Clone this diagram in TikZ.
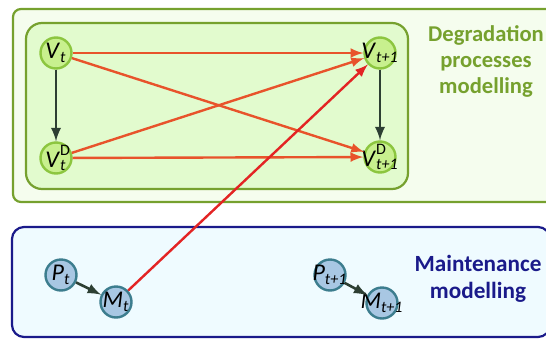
\documentclass[tikz,border=0pt]{standalone}
\usepackage{fontspec}
\setmainfont{Carlito}
\usepackage{tikz}
\usetikzlibrary{arrows}

\definecolor{boxgreen}{HTML}{76A12E}
\definecolor{outerfill}{HTML}{F5FDEE}
\definecolor{innerfill}{HTML}{E2FBCE}
\definecolor{vgreen}{HTML}{8CC63F}
\definecolor{vfill}{HTML}{C8F08E}
\definecolor{boxblue}{HTML}{1A1A8A}
\definecolor{bluefill}{HTML}{EFFBFF}
\definecolor{pblue}{HTML}{3C7D8E}
\definecolor{pfill}{HTML}{A8C7E3}
\definecolor{depred}{HTML}{E8532B}
\definecolor{maintred}{HTML}{E32424}
\definecolor{darkarrow}{HTML}{2D3F33}

\newcommand{\lbl}[2]{\makebox[0pt]{\textit{#1}\textsubscript{\textit{#2}}}}
\newcommand{\lbld}[2]{\makebox[0pt]{\textit{#1}\rlap{\raisebox{1.5pt}{\textsuperscript{D}}}\textsubscript{\textit{#2}}}}

\begin{document}
\begin{tikzpicture}[x=0.5pt, y=-0.5pt, >=latex,
		vnode/.style={circle, draw=vgreen, line width=1.2pt, fill=vfill, minimum size=15.5pt, inner sep=0pt, font=\fontsize{12}{12}\selectfont},
		pnode/.style={circle, draw=pblue, line width=1.2pt, fill=pfill, minimum size=15.5pt, inner sep=0pt, font=\fontsize{12}{12}\selectfont},
		dep/.style={->, line width=1.2pt, draw=depred, fill=depred},
		intra/.style={->, line width=1.3pt, draw=darkarrow, fill=darkarrow}]
		\useasboundingbox (0,0) rectangle (546,338);
		\clip (0,0) rectangle (546,338);
		% boxes
		\draw[rounded corners=4pt, line width=1.1pt, draw=boxgreen, fill=outerfill] (13,9) rectangle (580,202);
		\draw[rounded corners=8pt, line width=1.1pt, draw=boxgreen, fill=innerfill] (26,23) rectangle (408,189);
		\draw[rounded corners=6pt, line width=1.1pt, draw=boxblue, fill=bluefill] (12,227) rectangle (550,337);
		% degradation
		\node[vnode] (vt) at (56,53) {\lbl{V}{t}};
		\node[vnode] (vtd) at (56,158) {\lbld{V}{t}};
		\node[vnode] (vt1) at (380,53) {\lbl{V}{t+1}};
		\node[vnode] (vt1d) at (380,157) {\lbld{V}{t+1}};
		% maintenance
		\node[pnode] (pt) at (61,275) {\lbl{P}{t}};
		\node[pnode] (mt) at (116,302) {\lbl{M}{t}};
		\node[pnode] (pt1) at (330,275) {\lbl{P}{t+1}};
		\node[pnode] (mt1) at (382,303) {\lbl{M}{t+1}};
		% labels
		\node[align=center, text=boxgreen, font=\fontsize{11.3}{13}\selectfont\bfseries] (deglabel) at (486,61) {Degradation\\processes\\modelling};
		\node[align=center, text=boxblue, font=\fontsize{11.6}{13.5}\selectfont\bfseries] (mainlabel) at (478,279) {Maintenance\\modelling};
		% arcs
		\draw[intra] (vt) -- (vtd);
		\draw[intra] (vt1) -- (vt1d);
		\draw[intra] (pt) -- (mt);
		\draw[intra] (pt1) -- (mt1);
		\draw[dep] (vt) -- (vt1);
		\draw[dep] (vt) -- (vt1d);
		\draw[dep] (vtd) -- (vt1);
		\draw[dep] (vtd) -- (vt1d);
		\draw[dep, draw=maintred, fill=maintred] (mt) -- (vt1);
\end{tikzpicture}
\end{document}
